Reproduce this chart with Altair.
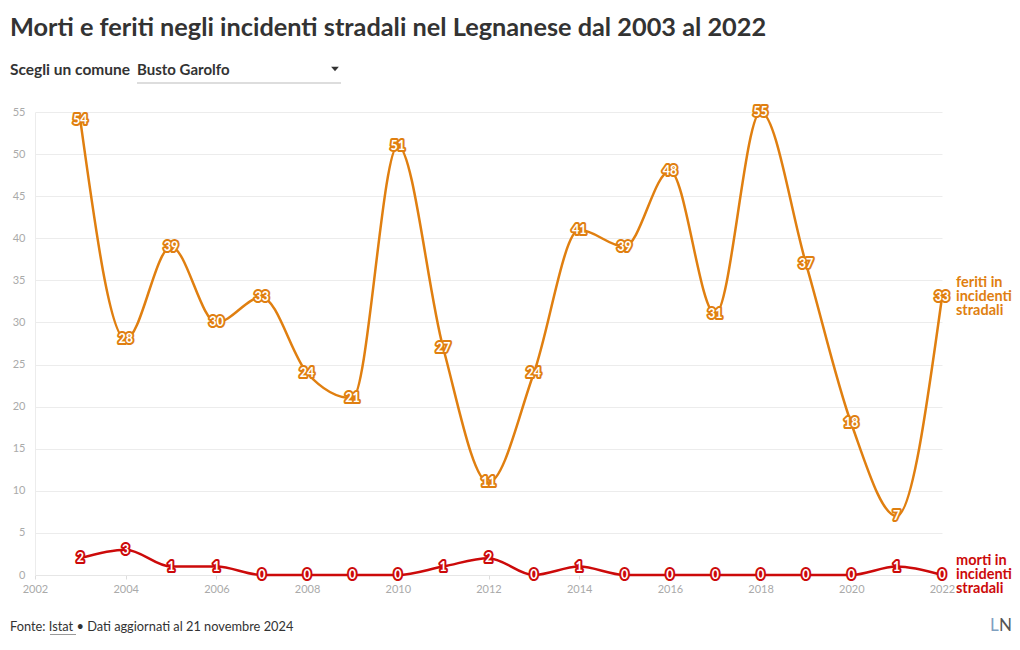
import altair as alt
import pandas as pd

years = list(range(2003, 2023))
feriti = [54, 28, 39, 30, 33, 24, 21, 51, 27, 11, 24, 41, 39, 48, 31, 55, 37, 18, 7, 33]
morti = [2, 3, 1, 1, 0, 0, 0, 0, 1, 2, 0, 1, 0, 0, 0, 0, 0, 0, 1, 0]
series_names = ["feriti in incidenti stradali", "morti in incidenti stradali"]
end_labels = ["feriti in\nincidenti\nstradali", "morti in\nincidenti\nstradali"]
colors = ["#e07f10", "#cc0a0a"]

FONT = "Lato"

rows = []
for y, f, m in zip(years, feriti, morti):
    rows.append({"year": y, "value": f, "series": series_names[0]})
    rows.append({"year": y, "value": m, "series": series_names[1]})
df = pd.DataFrame(rows)

ends = pd.DataFrame({
    "year": [2022, 2022],
    "value": [feriti[-1], morti[-1]],
    "series": series_names,
    "label": end_labels,
})

color_scale = alt.Scale(domain=series_names, range=colors)

x = alt.X("year:Q", scale=alt.Scale(domain=[2002, 2022], nice=False),
          axis=alt.Axis(values=list(range(2002, 2023, 2)), format="d", title=None,
                        grid=False, labelColor="#aaa", labelFontSize=11, labelFont=FONT,
                        labelFlush=False, labelOverlap=False,
                        tickColor="#ddd", tickSize=4, domainColor="#e6e6e6", labelPadding=4))
y = alt.Y("value:Q", scale=alt.Scale(domain=[0, 55], nice=False),
          axis=alt.Axis(values=list(range(0, 56, 5)), title=None, grid=True,
                        gridColor="#ececec", ticks=False, domain=True, domainColor="#ececec",
                        labelColor="#aaa", labelFontSize=11, labelFont=FONT, labelPadding=10))

base = alt.Chart(df)

lines = base.mark_line(interpolate="monotone", strokeWidth=2.5).encode(
    x=x, y=y, color=alt.Color("series:N", scale=color_scale, legend=None))

label_halo = base.mark_text(fontSize=12.5, fontWeight="bold", font=FONT, strokeWidth=4,
                            strokeJoin="round", baseline="middle").encode(
    x="year:Q", y="value:Q", text="value:Q",
    stroke=alt.Stroke("series:N", scale=color_scale, legend=None),
    color=alt.Color("series:N", scale=color_scale, legend=None))

label_fill = base.mark_text(fontSize=12.5, fontWeight="bold", font=FONT, color="white",
                            baseline="middle").encode(
    x="year:Q", y="value:Q", text="value:Q")

end_text = alt.Chart(ends).mark_text(align="left", baseline="middle", dx=14, dy=-14,
                                     fontSize=14.5, fontWeight="bold", font=FONT,
                                     lineBreak="\n", lineHeight=14).encode(
    x="year:Q", y="value:Q", text="label:N",
    color=alt.Color("series:N", scale=color_scale, legend=None))

one = pd.DataFrame({"a": [0]})

def txt(s, px, py, size, weight="normal", color="#333", baseline="middle", align="left"):
    return alt.Chart(one).mark_text(text=s, fontSize=size, fontWeight=weight, color=color,
                                    font=FONT, align=align, baseline=baseline).encode(
        x=alt.value(px), y=alt.value(py))

title = txt("Morti e feriti negli incidenti stradali nel Legnanese dal 2003 al 2022",
            -25, -76, 25.3, "bold", "#333", baseline="alphabetic")
sel_label = txt("Scegli un comune", -25, -42, 15.5, "bold", "#333")
sel_value = txt("Busto Garolfo", 102, -42, 15, "bold", "#333")
sel_line = alt.Chart(one).mark_rule(color="#bbb", strokeWidth=1).encode(
    x=alt.value(102), x2=alt.value(306), y=alt.value(-29))
sel_tri = alt.Chart(one).mark_point(shape="M-1,-0.55L1,-0.55L0,0.55Z", filled=True, size=60,
                                    color="#333", opacity=1).encode(
    x=alt.value(300), y=alt.value(-43))
footer = txt("Fonte: Istat \u2022 Dati aggiornati al 21 novembre 2024", -25, 515, 12.8, "normal", "#333")
istat_line = alt.Chart(one).mark_rule(color="#333", strokeWidth=1).encode(
    x=alt.value(15), x2=alt.value(41), y=alt.value(523))
logo_l = txt("L", 955, 514, 17, "normal", "#7fa0bf")
logo_n = txt("N", 964, 514, 17, "normal", "#555")

chart = alt.layer(
    lines, label_halo, label_fill, end_text,
    title, sel_label, sel_value, sel_line, sel_tri, footer, istat_line, logo_l, logo_n
).properties(
    width=907, height=463,
    padding={"left": 27, "top": 104, "right": 70, "bottom": 60},
    autosize=alt.AutoSizeParams(type="none"),
    background="white",
).configure_view(stroke=None)

chart.save("out.html", embed_options={"renderer": "svg", "actions": False})
